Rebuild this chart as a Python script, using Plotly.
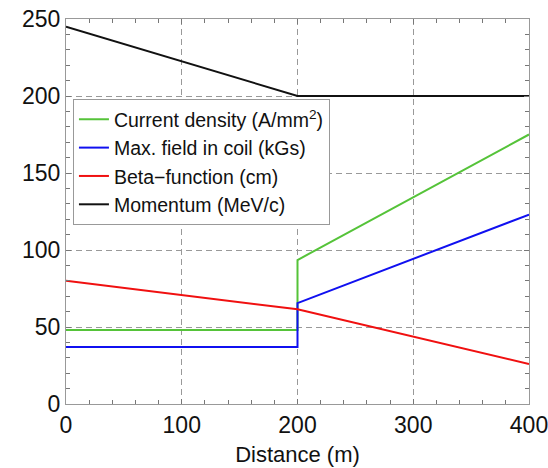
import plotly.graph_objects as go

# Data
x_current = [0, 200, 200, 400]
current_density = [48, 48, 93.5, 175]
x_field = [0, 200, 200, 400]
max_field = [37, 37, 65.5, 123]
x_beta = [0, 200, 400]
beta_function = [80, 61.5, 26]
x_momentum = [0, 200, 400]
momentum = [245, 200, 200]

names = ["Current density (A/mm<sup>2</sup>)", "Max. field in coil (kGs)",
         "Beta\u2212function (cm)", "Momentum (MeV/c)"]
colors = ["#55c339", "#1010f0", "#f01010", "#111111"]

FONT = "Liberation Sans, Arial"

fig = go.Figure()
series = [(x_current, current_density), (x_field, max_field),
          (x_beta, beta_function), (x_momentum, momentum)]
for (xs, ys), n, c in zip(series, names, colors):
    fig.add_trace(go.Scatter(x=xs, y=ys, mode="lines", name=n,
                             line=dict(color=c, width=2)))

axis_common = dict(
    showline=True, linecolor="#999999", linewidth=1, mirror="ticks",
    ticks="inside", ticklen=5, tickcolor="#777777",
    showgrid=True, gridcolor="#999999", griddash="6px,4px", gridwidth=1,
    zeroline=False, automargin=False, ticklabeloverflow="allow",
    tickfont=dict(family=FONT, size=23, color="#111111"),
)

fig.update_xaxes(range=[0, 400], dtick=100, tick0=0,
                 minor=dict(dtick=20, ticks="inside", ticklen=4, tickcolor="#777777", showgrid=False),
                 title=dict(text="Distance (m)", font=dict(family=FONT, size=22, color="#111111"), standoff=10),
                 **axis_common)
fig.update_yaxes(range=[0, 250], dtick=50, tick0=0,
                 minor=dict(dtick=10, ticks="inside", ticklen=4, tickcolor="#777777", showgrid=False),
                 **axis_common)

fig.update_layout(
    width=548, height=468,
    margin=dict(l=66, r=19, t=19, b=64),
    plot_bgcolor="white", paper_bgcolor="white",
    legend=dict(x=0.015, y=0.792, xanchor="left", yanchor="top",
                bgcolor="white", bordercolor="#999999", borderwidth=1,
                font=dict(family=FONT, size=19.5, color="#111111")),
    showlegend=True,
)

fig.write_html("out.html")
